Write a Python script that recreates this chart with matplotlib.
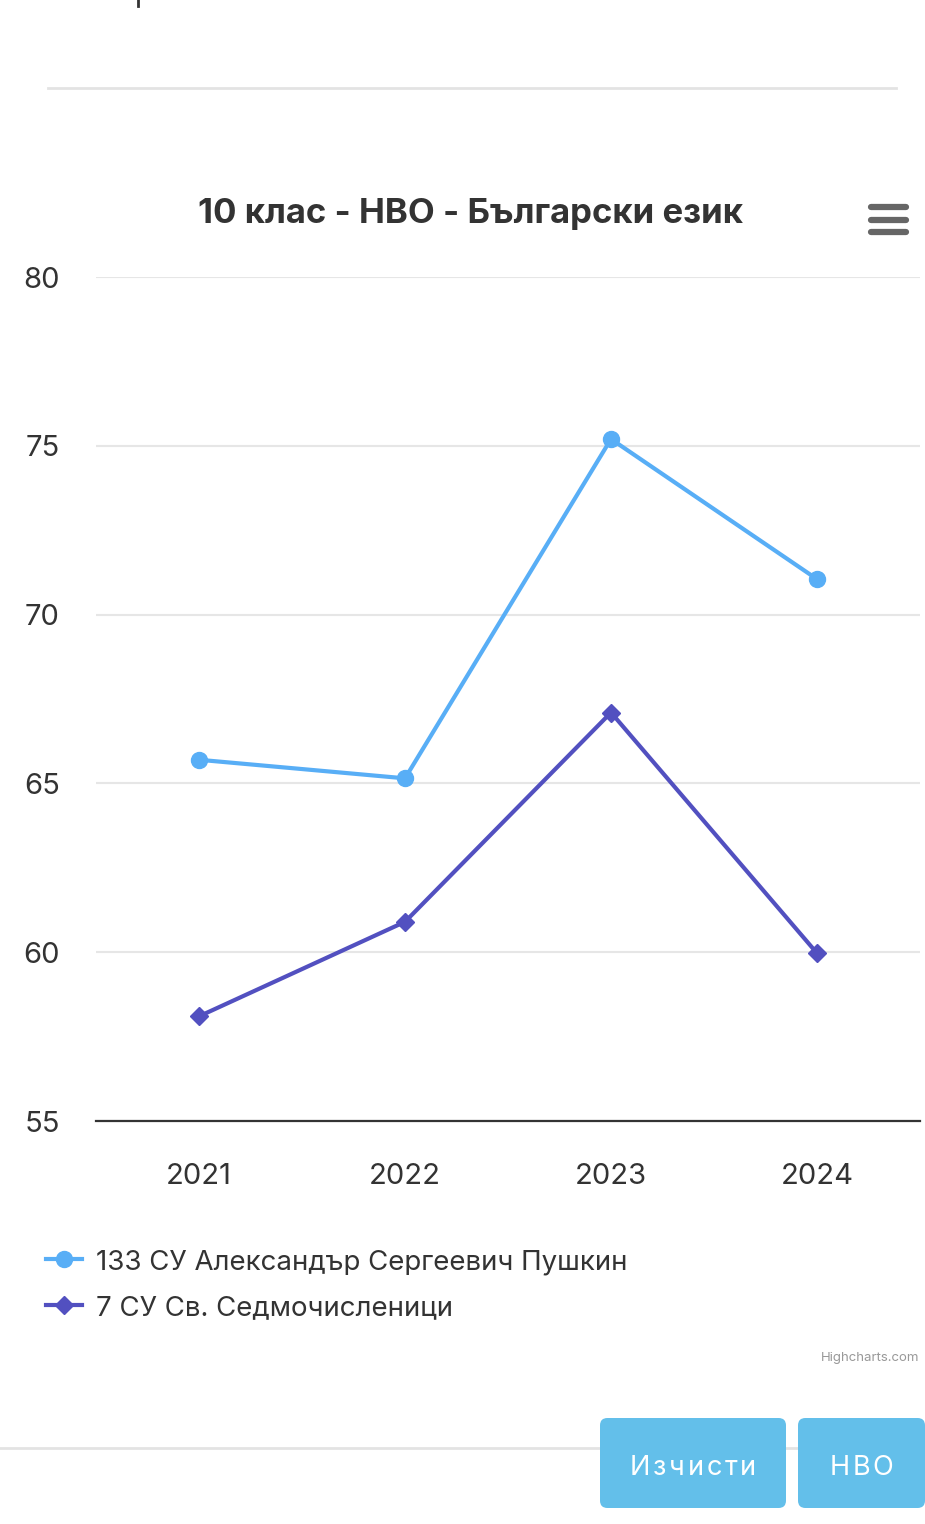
import matplotlib
matplotlib.use("Agg")
import matplotlib.pyplot as plt
from matplotlib.lines import Line2D
from matplotlib.patches import FancyBboxPatch

plt.rcParams['font.family'] = ['Inter', 'DejaVu Sans']

# data
years = ['2021', '2022', '2023', '2024']
pushkin = [65.7, 65.15, 75.2, 71.05]
sedmo = [58.1, 60.9, 67.1, 59.97]
series_names = ['133 СУ Александър Сергеевич Пушкин', '7 СУ Св. Седмочисленици']
y_ticks = [55, 60, 65, 70, 75, 80]

W, H = 925, 1524
BLUE = '#58aef6'
PURPLE = '#5250c0'
TXT = '#333333'


def fx(x):
    return x / W


def fy(y):
    return 1 - y / H


fig = plt.figure(figsize=(W / 100, H / 100), dpi=100)
fig.patch.set_facecolor('white')

# plot area
ax = fig.add_axes([fx(96), fy(1121), (920 - 96) / W, (1121 - 277) / H])
xs = range(len(years))
ax.plot(xs, pushkin, color=BLUE, lw=3, marker='o', ms=11.5,
        label=series_names[0], zorder=3)
ax.plot(xs, sedmo, color=PURPLE, lw=3, marker='D', ms=9.5,
        label=series_names[1], zorder=3)

ax.set_xlim(-0.5, 3.5)
ax.set_ylim(55, 80)
ax.set_yticks(y_ticks)
ax.set_xticks(list(xs))
ax.set_xticklabels(years)
ax.grid(axis='y', color='#e6e6e6', lw=1.5)
ax.set_axisbelow(True)
for s in ['top', 'right', 'left']:
    ax.spines[s].set_visible(False)
ax.spines['bottom'].set_color('#333333')
ax.spines['bottom'].set_linewidth(1.6)
ax.tick_params(axis='both', length=0, labelsize=21, colors=TXT)
ax.tick_params(axis='y', pad=26)
ax.tick_params(axis='x', pad=30)

# title and menu icon
fig.text(fx(471), fy(214), '10 клас - НВО - Български език', ha='center',
         va='center', fontsize=25, fontweight='bold', color=TXT)
for yy in [207, 220, 232]:
    fig.add_artist(Line2D([fx(871), fx(906)], [fy(yy), fy(yy)], color='#666666',
                          lw=4.5, solid_capstyle='round'))

# legend
leg = fig.legend(loc='upper left', bbox_to_anchor=(fx(35), fy(1238)),
                 frameon=False, fontsize=19.9, handlelength=1.3,
                 handletextpad=0.5, labelspacing=0.72, borderaxespad=0)
for t in leg.get_texts():
    t.set_color(TXT)

fig.text(fx(919), fy(1358), 'Highcharts.com', ha='right', va='center',
         fontsize=9.5, color='#999999')

# page decorations around the chart
fig.add_artist(Line2D([fx(48), fx(896)], [fy(88), fy(88)], color='#e3e3e3', lw=2))
fig.add_artist(Line2D([fx(138), fx(138)], [fy(0), fy(6)], color='#333333', lw=2))
fig.add_artist(Line2D([0, 1], [fy(1448), fy(1448)], color='#e3e3e3', lw=2,
                      zorder=0))

renderer = fig.canvas.get_renderer()


def spaced_text(cx, cy, s, size, track):
    # draw characters one by one to imitate letter spacing
    parts = []
    total = 0
    for ch in s:
        t = fig.text(0, 0, ch, fontsize=size, color='white', va='center',
                     ha='left', zorder=5)
        w = t.get_window_extent(renderer).width
        parts.append((t, w))
        total += w
    total += track * (len(s) - 1)
    x = cx - total / 2
    for t, w in parts:
        t.set_position((fx(x), fy(cy)))
        x += w + track


buttons = [('Изчисти', 600, 786), ('НВО', 798, 925)]
for label, x0, x1 in buttons:
    box = FancyBboxPatch((fx(x0), fy(1508)), fx(x1 - x0), (1508 - 1418) / H,
                         boxstyle='round,pad=0,rounding_size=0.008',
                         transform=fig.transFigure, facecolor='#63bfea',
                         edgecolor='none', mutation_aspect=W / H, zorder=2)
    fig.add_artist(box)
    spaced_text((x0 + x1) / 2, 1468, label, 19.5, 2.7)

fig.savefig('out.png', dpi=100)
